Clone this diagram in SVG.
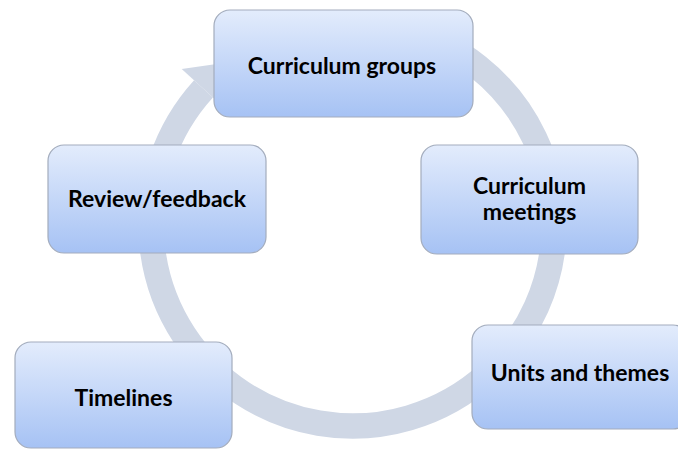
<svg xmlns="http://www.w3.org/2000/svg" width="678" height="450" viewBox="0 0 678 450">
  <defs>
    <linearGradient id="boxFill" x1="0" y1="0" x2="0" y2="1">
      <stop offset="0" stop-color="#E3ECFC"/>
      <stop offset="1" stop-color="#A6C2F4"/>
    </linearGradient>
  </defs>
  <style>
    .box { fill: url(#boxFill); stroke: #A3ACBD; stroke-width: 1.2; }
    .lbl { font-family: Lato, "Liberation Sans", sans-serif; font-weight: bold; font-size: 23px; fill: #000; text-anchor: middle; }
    .ring { fill: none; stroke: #CFD7E5; stroke-width: 25.5; }
    .head { fill: #CFD7E5; }
  </style>
  <rect width="678" height="450" fill="#FFFFFF"/>
  <g id="connectors">
    <path class="ring" d="M 404.65 29.87 A 201.5 201.5 0 1 1 203.5 88.9"/>
    <polygon class="head" points="181.7,69 225.3,108.7 234.1,61.5"/>
  </g>
  <g id="node-curriculum-groups">
    <rect class="box" x="214" y="10" width="259" height="107" rx="16"/>
    <text class="lbl" x="342" y="74">Curriculum groups</text>
  </g>
  <g id="node-curriculum-meetings">
    <rect class="box" x="421" y="145" width="217" height="109" rx="16"/>
    <text class="lbl" x="529.5" y="194">Curriculum</text>
    <text class="lbl" x="529.5" y="220">meetings</text>
  </g>
  <g id="node-units-themes">
    <rect class="box" x="472" y="325" width="217" height="104" rx="16"/>
    <text class="lbl" x="580" y="381">Units and themes</text>
  </g>
  <g id="node-timelines">
    <rect class="box" x="15" y="342" width="217" height="106" rx="16"/>
    <text class="lbl" x="123.5" y="406">Timelines</text>
  </g>
  <g id="node-review-feedback">
    <rect class="box" x="48" y="145" width="218" height="108" rx="16"/>
    <text class="lbl" x="157" y="207">Review/feedback</text>
  </g>
</svg>
